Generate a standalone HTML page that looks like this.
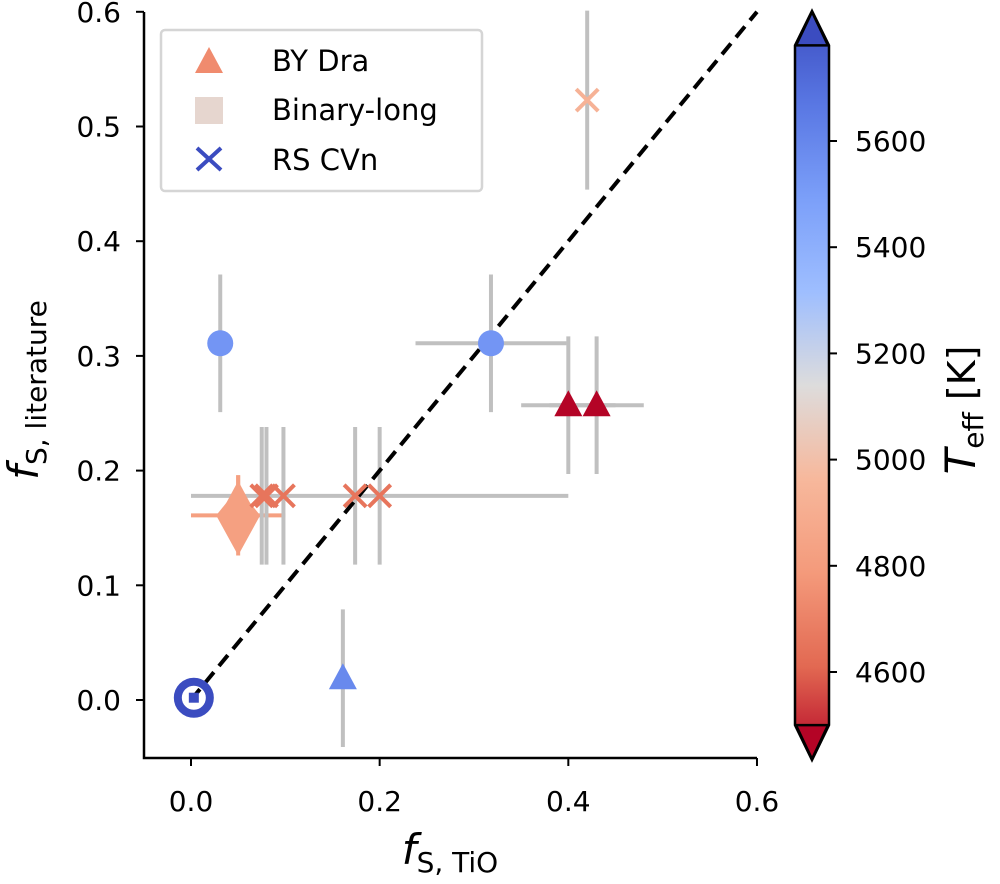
<!DOCTYPE html>
<html><head><meta charset="utf-8"><style>
body{margin:0;background:#fff}
text{font-family:"DejaVu Sans","Liberation Sans",sans-serif;fill:#000}
</style></head><body>
<svg width="1000" height="879" viewBox="0 0 1000 879" xmlns="http://www.w3.org/2000/svg">
<defs>
<linearGradient id="cb" x1="0" y1="0" x2="0" y2="1">
<stop offset="0" stop-color="#3b4cc0"/><stop offset="0.125" stop-color="#5977e3"/><stop offset="0.25" stop-color="#7b9ff9"/><stop offset="0.375" stop-color="#9ebeff"/><stop offset="0.5" stop-color="#dddcdc"/><stop offset="0.625" stop-color="#f7b89c"/><stop offset="0.75" stop-color="#f49a7b"/><stop offset="0.875" stop-color="#e26952"/><stop offset="1" stop-color="#b40426"/>
</linearGradient>
</defs>
<g id="plot"></g>
<g id="cbar"></g>
</svg>
<script>
const xs=[0.031,0.318,0.40,0.43,0.05,0.05,0.075,0.08,0.098,0.174,0.20,0.42,0.161,0.003];
const ys=[0.311,0.311,0.257,0.257,0.178,0.161,0.178,0.178,0.178,0.178,0.178,0.523,0.019,0.002];
const xerr=[0,0.08,0.05,0.05,0,0.05,0,0,0,0,0.2,0,0,0];
const yerr=[0.06,0.06,0.06,0.06,0.018,0.035,0.06,0.06,0.06,0.06,0.06,0.078,0.06,0];
const temps=[5500,5500,4500,4500,4850,4850,4700,4700,4700,4700,4700,4950,5550,5780];
const kinds=['circle','circle','tri','tri','tri','diamond','x','x','x','x','x','x','tri','ring'];
const xticks=[0.0,0.2,0.4,0.6];
const yticks=[0.0,0.1,0.2,0.3,0.4,0.5,0.6];
const cticks=[4600,4800,5000,5200,5400,5600];
const X0=191,XS=943.3,Y0=700,YS=1147;
const sx=v=>X0+v*XS, sy=v=>Y0-v*YS;
const TMIN=4500,TMAX=5780;
const anchors=['#3b4cc0','#5977e3','#7b9ff9','#9ebeff','#dddcdc','#f7b89c','#f49a7b','#e26952','#b40426'];
function color(T){let t=1-(T-TMIN)/(TMAX-TMIN);t=Math.max(0,Math.min(1,t));const p=t*8,i=Math.min(7,Math.floor(p)),f=p-i;
const a=anchors[i],b=anchors[i+1];const c=k=>Math.round(parseInt(a.substr(k,2),16)*(1-f)+parseInt(b.substr(k,2),16)*f);
return `rgb(${c(1)},${c(3)},${c(5)})`;}
const NS='http://www.w3.org/2000/svg';
const plot=document.getElementById('plot'),cbar=document.getElementById('cbar');
function mk(p,tag,at){const e=document.createElementNS(NS,tag);for(const k in at)e.setAttribute(k,at[k]);p.appendChild(e);return e;}
let e=mk(plot,'path',{d:'M144 12 V758 H757',fill:'none',stroke:'#000','stroke-width':2.5});


xticks.forEach(v=>{const x=sx(v);mk(plot,'line',{x1:x,x2:x,y1:758,y2:766,stroke:'#000','stroke-width':2});
const t=mk(plot,'text',{x:x,y:811,'font-size':28,'text-anchor':'middle'});t.textContent=v.toFixed(1);

});
yticks.forEach(v=>{const y=sy(v);mk(plot,'line',{x1:136,x2:144,y1:y,y2:y,stroke:'#000','stroke-width':2});
const t=mk(plot,'text',{x:121,y:y+10,'font-size':28,'text-anchor':'end'});t.textContent=v.toFixed(1);

});
xs.forEach((x,i)=>{
 if(yerr[i]){const l=mk(plot,'line',{x1:sx(x),x2:sx(x),y1:sy(ys[i]-yerr[i]),y2:sy(ys[i]+yerr[i]),stroke:kinds[i]==='diamond'||i===4?color(temps[i]):'#c0c0c0','stroke-width':4});
 
 }
 if(xerr[i]){const l=mk(plot,'line',{x1:sx(x-xerr[i]),x2:sx(x+xerr[i]),y1:sy(ys[i]),y2:sy(ys[i]),stroke:kinds[i]==='diamond'?color(temps[i]):'#c0c0c0','stroke-width':4});
 
 }
});
e=mk(plot,'line',{x1:sx(0),y1:sy(0),x2:sx(0.6),y2:sy(0.6),stroke:'#000','stroke-width':4,'stroke-dasharray':'14,8'});


xs.forEach((x,i)=>{const cx=sx(x),cy=sy(ys[i]),c=color(temps[i]);let m;
 if(kinds[i]==='circle')m=mk(plot,'circle',{cx:cx,cy:cy,r:13,fill:c});
 else if(kinds[i]==='tri')m=mk(plot,'path',{d:`M${cx} ${cy-15} L${cx+14} ${cy+11} L${cx-14} ${cy+11}Z`,fill:c});
 else if(kinds[i]==='diamond')m=mk(plot,'path',{d:`M${cx} ${cy-27} L${cx+22} ${cy} L${cx} ${cy+40} L${cx-22} ${cy}Z`,fill:c});
 else if(kinds[i]==='x')m=mk(plot,'path',{d:`M${cx-11} ${cy-11}L${cx+11} ${cy+11}M${cx+11} ${cy-11}L${cx-11} ${cy+11}`,stroke:c,'stroke-width':4,fill:'none'});
 else {m=mk(plot,'g',{});mk(m,'circle',{cx:cx,cy:cy,r:16,fill:'none',stroke:c,'stroke-width':8});mk(m,'rect',{x:cx-5,y:cy-5,width:10,height:10,fill:c});}
 
 
});
e=mk(plot,'text',{x:450,y:864,'font-size':34,'text-anchor':'middle'});
e.innerHTML='<tspan font-style="italic" font-size="42">f</tspan><tspan font-size="28" dy="8">S, TiO</tspan>';


e=mk(plot,'text',{x:0,y:0,'font-size':34,'text-anchor':'middle',transform:'translate(38,390) rotate(-90)'});
e.innerHTML='<tspan font-style="italic" font-size="42">f</tspan><tspan font-size="28" dy="8">S, literature</tspan>';


const lg=mk(plot,'g',{});


mk(lg,'rect',{x:161,y:30,width:321,height:161,rx:4,fill:'#fff',stroke:'#d5d5d5','stroke-width':2.5});
mk(lg,'path',{d:'M209 47 L223 73 L195 73Z',fill:'#f08b6e'});
mk(lg,'rect',{x:195,y:97,width:28,height:27,fill:'#e6d6cf'});
mk(lg,'path',{d:'M197 148L221 170M221 148L197 170',stroke:'#3b4cc0','stroke-width':4});
[['BY Dra',71],['Binary-long',120],['RS CVn',170]].forEach(([s,y])=>{const t=mk(lg,'text',{x:272,y:y,'font-size':29});t.textContent=s;

});
const cy=T=>672-(T-4600)*0.531;
e=mk(cbar,'path',{d:`M795 ${cy(TMAX)} L812 11 L829 ${cy(TMAX)} V${cy(TMIN)} L812 760 L795 ${cy(TMIN)}Z`,fill:'url(#cb)',stroke:'#000','stroke-width':2.5});


mk(cbar,'path',{d:`M796 ${cy(TMAX)} L812 12 L828 ${cy(TMAX)}Z`,fill:'#3b4cc0',stroke:'#000','stroke-width':2.5});
mk(cbar,'path',{d:`M796 ${cy(TMIN)} L812 759 L828 ${cy(TMIN)}Z`,fill:'#b40426',stroke:'#000','stroke-width':2.5});
cticks.forEach(T=>{const y=cy(T);mk(cbar,'line',{x1:829,x2:837,y1:y,y2:y,stroke:'#000','stroke-width':2});
const t=mk(cbar,'text',{x:855,y:y+10,'font-size':28});t.textContent=T;

});
e=mk(cbar,'text',{x:0,y:0,'font-size':38,'text-anchor':'middle',transform:'translate(975,410) rotate(-90)'});
e.innerHTML='<tspan font-style="italic" font-size="42">T</tspan><tspan font-size="28" dy="8">eff</tspan><tspan dy="-8"> [K]</tspan>';


</script>
</body></html>
